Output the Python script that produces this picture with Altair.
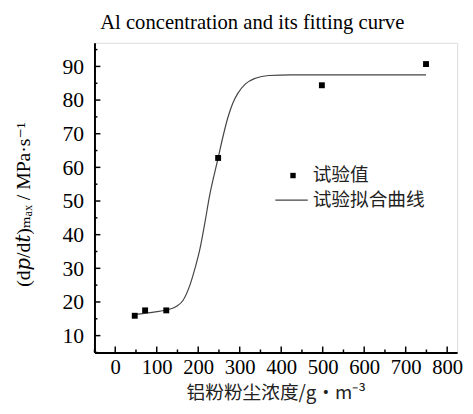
import altair as alt
import pandas as pd

# Experimental values
exp_x = [47, 72, 123, 248, 498, 749]
exp_y = [15.9, 17.5, 17.5, 62.8, 84.4, 90.7]

# Fitted curve
fit_x = [47, 93, 123, 148, 164, 180, 192, 204, 216, 227, 239, 248, 259, 271, 283, 295, 314, 338, 370, 425, 550, 650, 749]
fit_y = [16.3, 17.0, 17.6, 18.7, 20.6, 25.0, 29.9, 35.7, 43.5, 51.3, 58.1, 62.8, 68.8, 74.6, 79.0, 81.9, 84.8, 86.5, 87.3, 87.5, 87.5, 87.5, 87.5]

x_major = [0, 100, 200, 300, 400, 500, 600, 700, 800]
x_minor = [-50, 50, 150, 250, 350, 450, 550, 650, 750]
y_major = [10, 20, 30, 40, 50, 60, 70, 80, 90]
y_minor = [5, 15, 25, 35, 45, 55, 65, 75, 85, 95]

legend_labels = ["试验值", "试验拟合曲线"]

W, H = 369, 315
SERIF = "Liberation Serif, DejaVu Serif, Noto Sans CJK SC"
CJK = "Noto Sans CJK SC, Liberation Serif"

xs = alt.Scale(domain=[-50, 824], nice=False, zero=False)
ys = alt.Scale(domain=[5, 97], nice=False, zero=False)

exp_df = pd.DataFrame({"x": exp_x, "y": exp_y})
fit_df = pd.DataFrame({"x": fit_x, "y": fit_y})

xaxis = alt.Axis(values=x_major, ticks=False, grid=False, domainColor="black", domainWidth=2,
                 labelFont=SERIF, labelFontSize=21, labelColor="black", labelPadding=4,
                 labelOverlap=False,
                 title="铝粉粉尘浓度/g·m⁻³", titleFont=CJK, titleFontSize=19, titleFontWeight="normal",
                 titleColor="#222", titleY=41, titleBaseline="middle")
yaxis = alt.Axis(values=y_major, ticks=False, grid=False, domainColor="black", domainWidth=2,
                 labelFont=SERIF, labelFontSize=22, labelColor="black", labelPadding=11,
                 labelOverlap=False,
                 title="(d𝑝/d𝑡)ₘₐₓ / MPa·s⁻¹", titleFont=SERIF, titleFontSize=20, titleFontWeight="normal",
                 titleColor="black", titleX=-72, titleY=164, titleBaseline="middle")

line = alt.Chart(fit_df).mark_line(color="#444", strokeWidth=1.2, interpolate="monotone").encode(
    x=alt.X("x:Q", scale=xs, axis=xaxis),
    y=alt.Y("y:Q", scale=ys, axis=yaxis),
)
pts = alt.Chart(exp_df).mark_square(color="black", size=36, opacity=1).encode(
    x=alt.X("x:Q", scale=xs, axis=xaxis), y=alt.Y("y:Q", scale=ys, axis=yaxis)
)

xmaj = alt.Chart(pd.DataFrame({"x": x_major})).mark_rule(color="black", strokeWidth=1.5).encode(
    x=alt.X("x:Q", scale=xs, axis=xaxis), y=alt.value(H - 6), y2=alt.value(H))
xmin = alt.Chart(pd.DataFrame({"x": x_minor})).mark_rule(color="black", strokeWidth=1.5).encode(
    x=alt.X("x:Q", scale=xs, axis=xaxis), y=alt.value(H - 3), y2=alt.value(H))
ymaj = alt.Chart(pd.DataFrame({"y": y_major})).mark_rule(color="black", strokeWidth=1.5).encode(
    y=alt.Y("y:Q", scale=ys, axis=yaxis), x=alt.value(0), x2=alt.value(6))
ymin = alt.Chart(pd.DataFrame({"y": y_minor})).mark_rule(color="black", strokeWidth=1.5).encode(
    y=alt.Y("y:Q", scale=ys, axis=yaxis), x=alt.value(0), x2=alt.value(3))

# manual legend
leg_sq = alt.Chart(pd.DataFrame({"l": [legend_labels[0]]})).mark_square(color="black", size=30, opacity=1).encode(
    x=alt.value(202), y=alt.value(135))
leg_ln = alt.Chart(pd.DataFrame({"l": [legend_labels[1]]})).mark_rule(color="#444", strokeWidth=1.2).encode(
    x=alt.value(184), x2=alt.value(217), y=alt.value(160))
leg_t1 = alt.Chart(pd.DataFrame({"l": [legend_labels[0]]})).mark_text(
    align="left", baseline="middle", font=CJK, fontSize=19, color="#222").encode(
    x=alt.value(222), y=alt.value(135), text="l:N")
leg_t2 = alt.Chart(pd.DataFrame({"l": [legend_labels[1]]})).mark_text(
    align="left", baseline="middle", font=CJK, fontSize=19, color="#222").encode(
    x=alt.value(222), y=alt.value(160), text="l:N")

chart = alt.layer(line, xmaj, xmin, ymaj, ymin, pts, leg_sq, leg_ln, leg_t1, leg_t2).properties(
    width=W, height=H,
    title=alt.TitleParams("Al concentration and its fitting curve", font=SERIF, fontSize=21,
                          fontWeight="normal", color="black", anchor="middle", dx=-24, offset=10),
    padding={"left": 88, "top": 32, "right": 8, "bottom": 50},
    autosize="none",
).configure_view(stroke=None).configure_axis(labelOverlap=False).configure(background="white")

chart.save("out.html", embed_options={"renderer": "svg", "actions": False})
